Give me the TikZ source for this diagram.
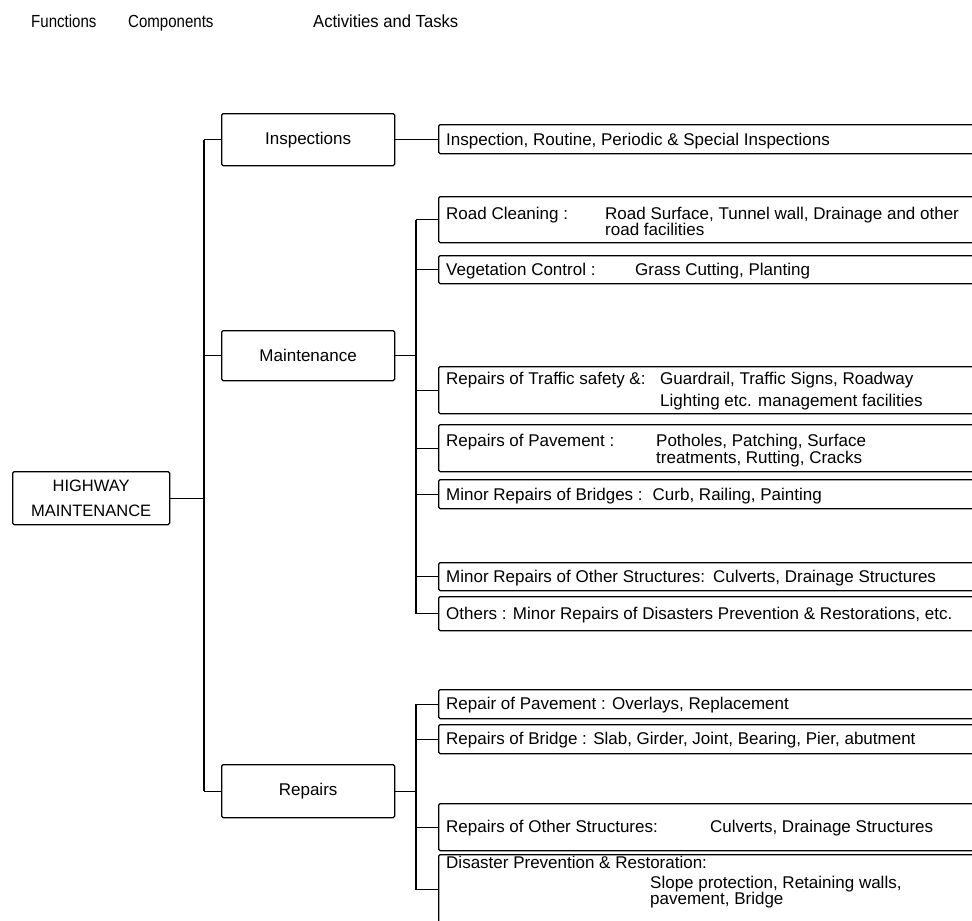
\documentclass[tikz,border=0pt]{standalone}
\usepackage{fontspec}
\setmainfont{Liberation Sans}
\begin{document}
\begin{tikzpicture}[x=1pt,y=-1pt,
  lbl/.style={font=\fontsize{17}{19}\selectfont, inner sep=0pt, anchor=base west},
  head/.style={font=\fontsize{17.5}{20}\selectfont, inner sep=0pt, anchor=base west},
  compbox/.style={draw, line width=1.3pt, rounded corners=1.5pt, anchor=north west, minimum width=173pt, inner sep=0pt, font=\fontsize{17}{20}\selectfont},
  actbox/.style={draw, line width=1.3pt, rounded corners=1.5pt, anchor=north west, minimum width=545pt, inner sep=0pt},
  conn/.style={line width=1.3pt},
  bus/.style={line width=2.2pt}]
\useasboundingbox (0,0) rectangle (972,921);
\clip (0,0) rectangle (972,921);

% headers
\node[head] (hf) at (31,27) {\scalebox{0.86}[1]{Functions}};
\node[head] (hc) at (128,27) {\scalebox{0.86}[1]{Components}};
\node[head] (ha) at (313,27) {\scalebox{0.95}[1]{Activities and Tasks}};

% function and components
\node[compbox, minimum width=157pt, minimum height=53pt, align=center, font=\fontsize{16.5}{25}\selectfont] (hw) at (12,471) {HIGHWAY\\MAINTENANCE};
\node[compbox, minimum height=52pt] (insp) at (221,113) {Inspections};
\node[compbox, minimum height=50pt] (maint) at (221,330) {Maintenance};
\node[compbox, minimum height=53pt] (rep) at (221,764) {Repairs};

% activity boxes
\node[actbox, minimum height=29pt] (a1) at (438,124) {};
\node[actbox, minimum height=46pt] (a2) at (438,196) {};
\node[actbox, minimum height=28pt] (a3) at (438,255) {};
\node[actbox, minimum height=47pt] (a4) at (438,366) {};
\node[actbox, minimum height=47pt] (a5) at (438,424) {};
\node[actbox, minimum height=29pt] (a6) at (438,479) {};
\node[actbox, minimum height=28pt] (a7) at (438,562) {};
\node[actbox, minimum height=34pt] (a8) at (438,596) {};
\node[actbox, minimum height=29pt] (a9) at (438,689) {};
\node[actbox, minimum height=29pt] (a10) at (438,724) {};
\node[actbox, minimum height=47pt] (a11) at (438,803) {};
\node[actbox, minimum height=70pt] (a12) at (438,854) {};

% bus coordinates
\coordinate (b1) at (204,0);
\coordinate (b2) at (416,0);

% connectors
\draw[conn] (hw.east) -- (hw.east -| b1);
\draw[bus] (insp.west -| b1) -- (rep.west -| b1);
\draw[conn] (insp.west -| b1) -- (insp.west);
\draw[conn] (maint.west -| b1) -- (maint.west);
\draw[conn] (rep.west -| b1) -- (rep.west);
\draw[conn] (insp.east) -- (insp.east -| a1.west);
\draw[conn] (maint.east) -- (maint.east -| b2);
\draw[bus] (a2.west -| b2) -- (a8.west -| b2);
\foreach \a in {a2,a3,a4,a5,a6,a7,a8} \draw[conn] (\a.west -| b2) -- (\a.west);
\draw[conn] (rep.east) -- (rep.east -| b2);
\draw[bus] (a9.west -| b2) -- (a12.west -| b2);
\foreach \a in {a9,a10,a11,a12} \draw[conn] (\a.west -| b2) -- (\a.west);

% activity texts
\node[lbl] (t1) at (446,145) {Inspection, Routine, Periodic \& Special Inspections};
\node[lbl] (t2) at (446,219) {Road Cleaning :};
\node[lbl] (t2b) at (605,219) {Road Surface, Tunnel wall, Drainage and other};
\node[lbl] (t2c) at (605,235) {road facilities};
\node[lbl] (t3) at (446,275) {Vegetation Control :};
\node[lbl] (t3b) at (635,275) {Grass Cutting, Planting};
\node[lbl] (t4) at (446,384) {Repairs of Traffic safety \&:};
\node[lbl] (t4b) at (660,384) {Guardrail, Traffic Signs, Roadway};
\node[lbl] (t4c) at (660,406) {Lighting etc. management facilities};
\node[lbl] (t5) at (446,446) {Repairs of Pavement :};
\node[lbl] (t5b) at (656,446) {Potholes, Patching, Surface};
\node[lbl] (t5c) at (656,463) {treatments, Rutting, Cracks};
\node[lbl] (t6) at (446,500) {Minor Repairs of Bridges :\hspace{10pt}Curb, Railing, Painting};
\node[lbl] (t7) at (446,582) {Minor Repairs of Other Structures:\hspace{8pt}Culverts, Drainage Structures};
\node[lbl] (t8) at (446,619) {Others : Minor Repairs of Disasters Prevention \& Restorations, etc.};
\node[lbl] (t9) at (446,709) {Repair of Pavement : Overlays, Replacement};
\node[lbl] (t10) at (446,744) {Repairs of Bridge : Slab, Girder, Joint, Bearing, Pier, abutment};
\node[lbl] (t11) at (446,832) {Repairs of Other Structures:};
\node[lbl] (t11b) at (710,832) {Culverts, Drainage Structures};
\node[lbl] (t12) at (446,868) {Disaster Prevention \& Restoration:};
\node[lbl] (t12b) at (650,888) {Slope protection, Retaining walls,};
\node[lbl] (t12c) at (650,904) {pavement, Bridge};
\end{tikzpicture}
\end{document}
